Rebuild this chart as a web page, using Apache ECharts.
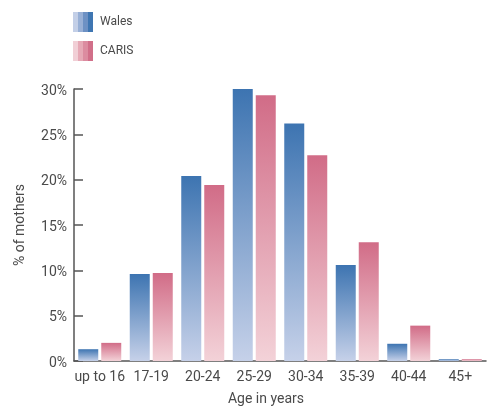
<!DOCTYPE html>
<html>
<head>
<meta charset="utf-8">
<script src="https://cdn.jsdelivr.net/npm/echarts@6/dist/echarts.min.js"></script>
<style>
  html, body { margin: 0; padding: 0; background: #fff; }
  #chart { width: 496px; height: 411px; }
</style>
</head>
<body>
<div id="chart"></div>
<script>
// Age bands of mothers and share (%) per band
const ageBands = ['up to 16', '17-19', '20-24', '25-29', '30-34', '35-39', '40-44', '45+'];
const walesShare = [1.3, 9.6, 20.4, 30.1, 26.2, 10.6, 1.9, 0.2];
const carisShare = [2.0, 9.7, 19.4, 29.3, 22.7, 13.1, 3.9, 0.2];
const yTicks = [0, 5, 10, 15, 20, 25, 30];

const FONT = 'Roboto, "Liberation Sans", sans-serif';
const TEXT = '#4a4a4a';
const AXIS = '#555';

function vGrad(top, bottom) {
  return new echarts.graphic.LinearGradient(0, 0, 0, 1, [
    { offset: 0, color: top },
    { offset: 1, color: bottom }
  ]);
}
// banded swatch for the legend keys
function hBands(colors) {
  const stops = [];
  const n = colors.length;
  colors.forEach((c, i) => {
    stops.push({ offset: i / n, color: c });
    stops.push({ offset: (i + 1) / n, color: c });
  });
  return new echarts.graphic.LinearGradient(0, 0, 1, 0, stops);
}

const walesFill = vGrad('#3d74b1', '#c6d1e9');
const carisFill = vGrad('#d16c87', '#f3d2d8');

const chart = echarts.init(document.getElementById('chart'), null, { renderer: 'canvas' });
chart.setOption({
  animation: false,
  textStyle: { fontFamily: FONT },
  legend: {
    orient: 'vertical',
    left: 73,
    top: 12,
    padding: 0,
    itemWidth: 20,
    itemHeight: 20,
    itemGap: 9,
    textStyle: { fontFamily: FONT, fontSize: 12, color: TEXT, padding: [0, 0, 0, 2], lineHeight: 18, verticalAlign: 'top' },
    data: [
      { name: 'Wales', icon: 'rect', itemStyle: { color: hBands(['#c3cfe7', '#98b0d6', '#6d91c4', '#3f76b2']) } },
      { name: 'CARIS', icon: 'rect', itemStyle: { color: hBands(['#f1cfd6', '#e6a9b6', '#dc8ca0', '#d16f89']) } }
    ]
  },
  grid: { left: 74, right: 10, top: 89, bottom: 46 },
  xAxis: {
    type: 'category',
    data: ageBands,
    name: 'Age in years',
    nameLocation: 'middle',
    nameGap: 31,
    nameTextStyle: { fontFamily: FONT, fontSize: 14, color: TEXT, padding: [0, 28, 0, 0] },
    axisLine: { lineStyle: { color: AXIS, width: 1.5 } },
    axisTick: { inside: true, length: 6, lineStyle: { color: AXIS, width: 1.5 } },
    axisLabel: { interval: 0, fontFamily: FONT, fontSize: 14, color: TEXT, margin: 9 }
  },
  yAxis: {
    type: 'value',
    min: yTicks[0],
    max: yTicks[yTicks.length - 1],
    interval: 5,
    name: '% of mothers',
    nameLocation: 'middle',
    nameGap: 47,
    nameTextStyle: { fontFamily: FONT, fontSize: 14, color: TEXT },
    axisLine: { show: true, lineStyle: { color: AXIS, width: 1.5 } },
    axisTick: { show: true, inside: true, length: 9, lineStyle: { color: AXIS, width: 1.5 } },
    splitLine: { show: false },
    axisLabel: { fontFamily: FONT, fontSize: 14, color: TEXT, margin: 7, verticalAlign: 'top', padding: [-5, 0, 0, 0], formatter: '{value}%' }
  },
  series: [
    {
      name: 'Wales',
      type: 'bar',
      data: walesShare,
      barWidth: 20,
      barGap: '15%',
      itemStyle: { color: walesFill }
    },
    {
      name: 'CARIS',
      type: 'bar',
      data: carisShare,
      barWidth: 20,
      itemStyle: { color: carisFill }
    }
  ]
});
</script>
</body>
</html>
